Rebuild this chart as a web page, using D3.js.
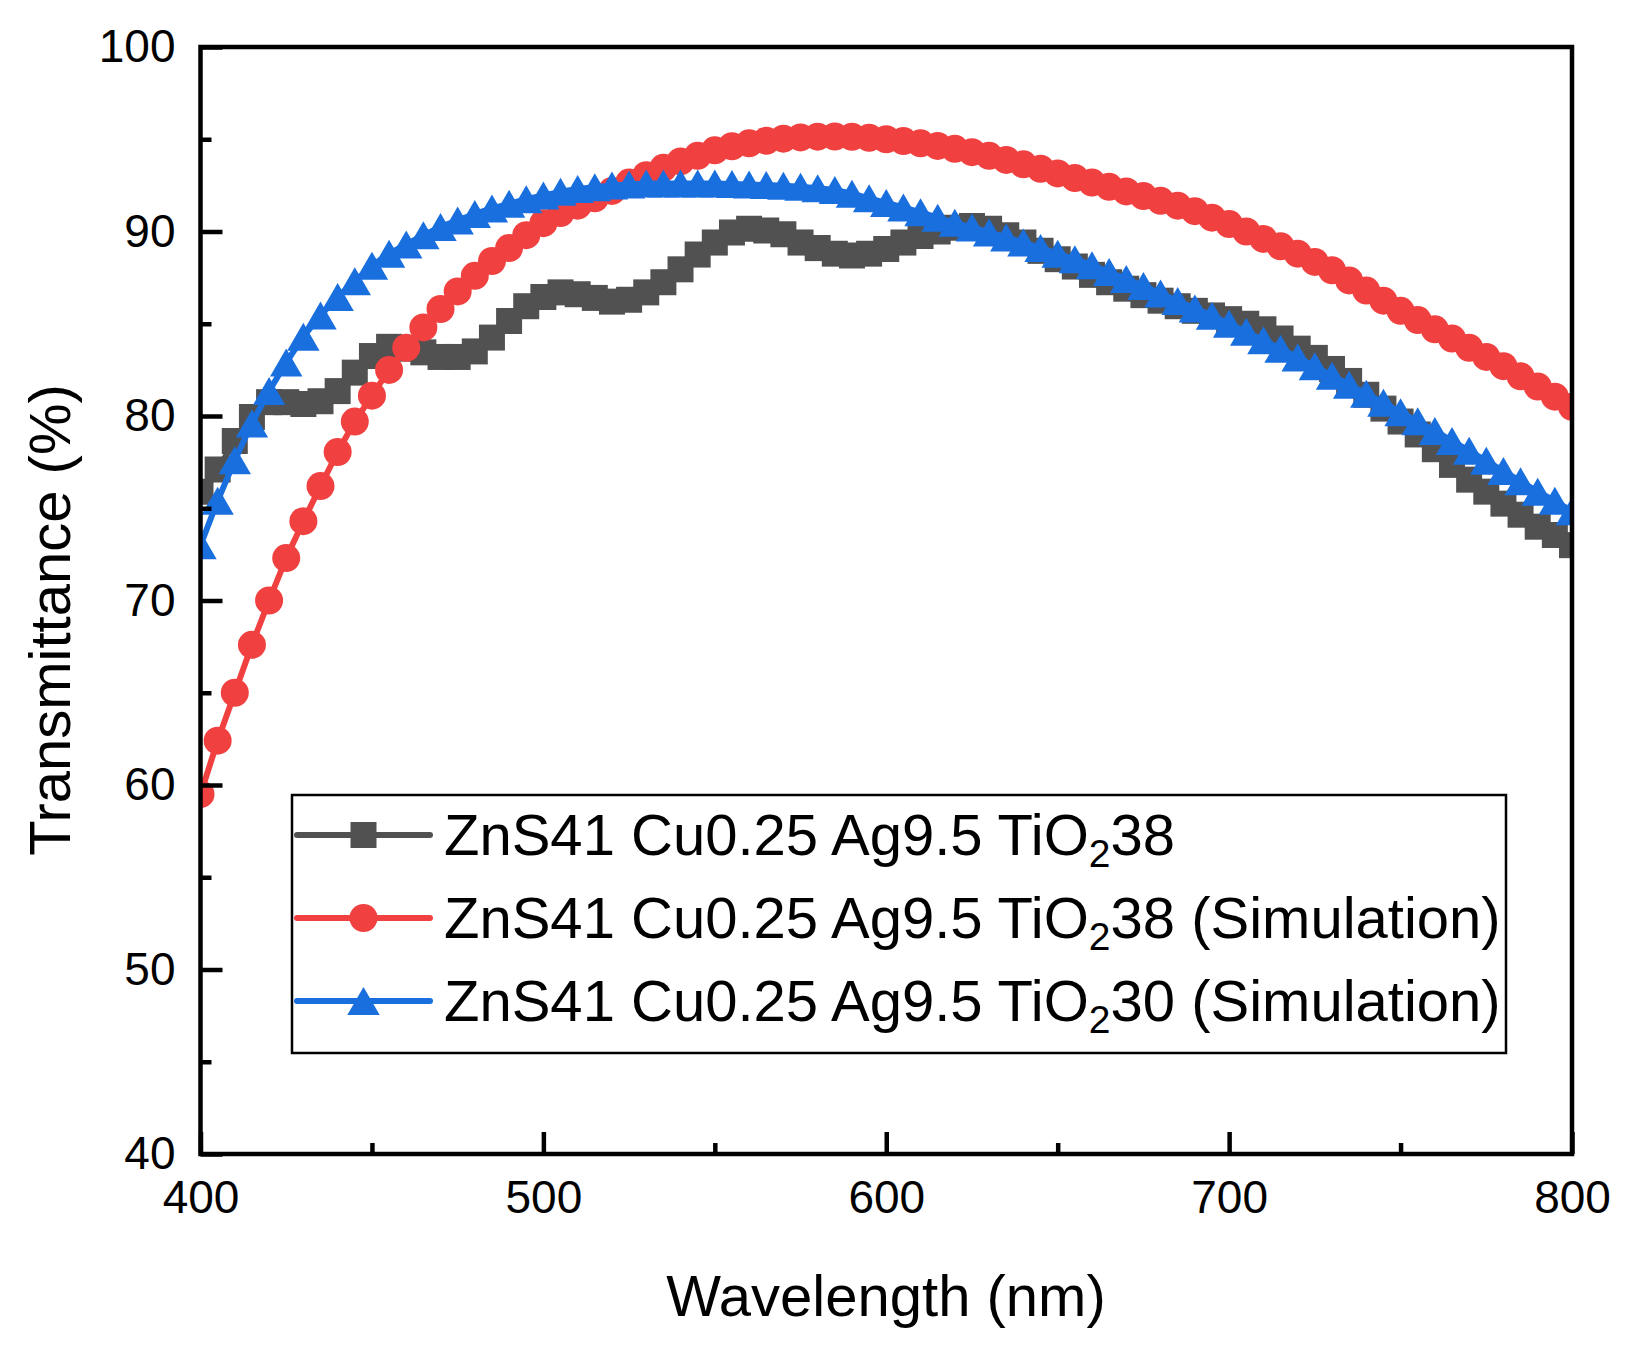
<!DOCTYPE html>
<html>
<head>
<meta charset="utf-8">
<script src="https://cdn.jsdelivr.net/npm/d3@7"></script>
<style>
  html, body { margin: 0; padding: 0; background: #ffffff; }
  svg { display: block; }
  text { font-family: "Liberation Sans", Arial, Helvetica, sans-serif; fill: #000; }
</style>
</head>
<body>
<svg id="chart" width="1632" height="1349"></svg>
<script>
// ---------------- data ----------------
const wavelength = [400,405,410,415,420,425,430,435,440,445,450,455,460,465,470,475,480,485,490,495,
  500,505,510,515,520,525,530,535,540,545,550,555,560,565,570,575,580,585,590,595,
  600,605,610,615,620,625,630,635,640,645,650,655,660,665,670,675,680,685,690,695,
  700,705,710,715,720,725,730,735,740,745,750,755,760,765,770,775,780,785,790,795,800];

const measured38 = [75.9,77.1,78.65,79.95,80.75,80.75,80.65,80.8,81.35,82.35,83.25,83.75,83.65,83.45,83.2,83.2,83.5,84.25,85.15,85.95,
  86.45,86.7,86.6,86.4,86.2,86.3,86.7,87.25,87.95,88.75,89.4,89.95,90.15,90.05,89.85,89.4,89.1,88.8,88.7,88.8,
  89.05,89.4,89.75,90.0,90.2,90.3,90.15,89.8,89.4,88.95,88.5,88.1,87.65,87.25,86.9,86.55,86.25,85.95,85.7,85.45,
  85.25,85.0,84.7,84.2,83.65,83.15,82.55,81.9,81.15,80.4,79.7,79.0,78.2,77.35,76.55,75.9,75.25,74.65,74.0,73.55,73.0];

const simulation38 = [59.5,62.4,65.0,67.6,70.0,72.3,74.3,76.2,78.05,79.7,81.1,82.5,83.7,84.8,85.8,86.75,87.6,88.4,89.1,89.8,
  90.45,91.0,91.4,91.8,92.2,92.65,93.05,93.45,93.8,94.1,94.4,94.62,94.78,94.92,95.03,95.1,95.14,95.15,95.13,95.08,
  95.0,94.9,94.78,94.64,94.48,94.3,94.1,93.88,93.64,93.4,93.15,92.9,92.65,92.42,92.17,91.92,91.66,91.4,91.1,90.75,
  90.4,90.0,89.6,89.2,88.8,88.35,87.9,87.35,86.8,86.25,85.7,85.2,84.7,84.2,83.7,83.2,82.7,82.15,81.6,81.05,80.5];

const simulation30 = [73.0,75.4,77.6,79.6,81.35,82.9,84.3,85.45,86.45,87.3,88.15,88.8,89.3,89.8,90.25,90.6,90.95,91.25,91.5,91.75,
  91.95,92.15,92.3,92.4,92.5,92.55,92.6,92.6,92.6,92.6,92.6,92.58,92.55,92.52,92.48,92.42,92.35,92.25,92.05,91.8,
  91.55,91.3,91.04,90.75,90.47,90.22,89.95,89.68,89.4,89.1,88.8,88.5,88.17,87.8,87.43,87.05,86.64,86.23,85.83,85.44,
  85.0,84.56,84.1,83.64,83.17,82.69,82.18,81.7,81.2,80.72,80.2,79.71,79.19,78.65,78.11,77.57,77.02,76.46,75.9,75.4,74.84];

const xTicks = [400, 500, 600, 700, 800];
const xMinorTicks = [450, 550, 650, 750];
const yTicks = [40, 50, 60, 70, 80, 90, 100];
const yMinorTicks = [45, 55, 65, 75, 85, 95];

const seriesNames = ["ZnS41 Cu0.25 Ag9.5 TiO", "ZnS41 Cu0.25 Ag9.5 TiO", "ZnS41 Cu0.25 Ag9.5 TiO"];
const seriesSuffix = ["38", "38 (Simulation)", "30 (Simulation)"];
const seriesColors = ["#515151", "#F14040", "#1A6FDF"];
const seriesShapes = ["square", "circle", "triangle"];
const seriesValues = [measured38, simulation38, simulation30];

const xTitle = "Wavelength (nm)";
const yTitle = "Transmittance (%)";

// ---------------- layout ----------------
(function draw() {
const svg = d3.select("#chart");
svg.append("rect").attr("width", 1632).attr("height", 1349).attr("fill", "#fff");

const pL = 200.5, pR = 1572, pT = 47, pB = 1154;
const x = d3.scaleLinear().domain([400, 800]).range([pL, pR]);
const y = d3.scaleLinear().domain([40, 100]).range([pB, pT]);

function markerPath(shape) {
  if (shape === "square") return "M-13,-13H13V13H-13Z";
  if (shape === "circle") return "M14,0A14,14 0 1,1 -14,0A14,14 0 1,1 14,0Z";
  return "M0,-14L16.2,14L-16.2,14Z";
}

svg.append("defs").append("clipPath").attr("id", "plotclip")
  .append("rect").attr("x", pL).attr("y", pT)
  .attr("width", pR - pL).attr("height", pB - pT);

const plot = svg.append("g").attr("clip-path", "url(#plotclip)");

const line = d3.line().x((d, i) => x(wavelength[i])).y(d => y(d));

seriesValues.forEach((vals, s) => {
  const g = plot.append("g");
  g.append("path").datum(vals)
    .attr("d", line)
    .attr("fill", "none")
    .attr("stroke", seriesColors[s])
    .attr("stroke-width", 6)
    .attr("stroke-linejoin", "round");
  g.selectAll("path.m").data(vals).enter().append("path")
    .attr("class", "m")
    .attr("d", markerPath(seriesShapes[s]))
    .attr("transform", (d, i) => `translate(${x(wavelength[i])},${y(d)})`)
    .attr("fill", seriesColors[s]);
});

// ---------------- axes ----------------
const fontTick = 46;
const axX = svg.append("g").attr("transform", `translate(0,${pB})`)
  .call(d3.axisBottom(x).tickValues(xTicks).tickSize(-22).tickPadding(26).tickFormat(d3.format("d")));
const axXm = svg.append("g").attr("transform", `translate(0,${pB})`)
  .call(d3.axisBottom(x).tickValues(xMinorTicks).tickSize(-11).tickFormat(""));
const axY = svg.append("g").attr("transform", `translate(${pL},0)`)
  .call(d3.axisLeft(y).tickValues(yTicks).tickSize(-22).tickPadding(25).tickFormat(d3.format("d")));
const axYm = svg.append("g").attr("transform", `translate(${pL},0)`)
  .call(d3.axisLeft(y).tickValues(yMinorTicks).tickSize(-11).tickFormat(""));

[axX, axXm, axY, axYm].forEach(a => {
  a.select(".domain").remove();
  a.selectAll(".tick line").attr("stroke", "#000").attr("stroke-width", 4.5);
  a.selectAll(".tick text").attr("font-size", fontTick)
    .attr("font-family", '"Liberation Sans", Arial, sans-serif').attr("fill", "#000");
});

// frame
svg.append("rect").attr("x", pL).attr("y", pT)
  .attr("width", pR - pL).attr("height", pB - pT)
  .attr("fill", "none").attr("stroke", "#000").attr("stroke-width", 4.5);

// axis titles
svg.append("text").attr("x", 886).attr("y", 1316)
  .attr("text-anchor", "middle").attr("font-size", 58).text(xTitle);
svg.append("text").attr("transform", "translate(70,620) rotate(-90)")
  .attr("text-anchor", "middle").attr("font-size", 58).text(yTitle);

// ---------------- legend ----------------
const leg = svg.append("g");
leg.append("rect").attr("x", 292).attr("y", 795).attr("width", 1214).attr("height", 258)
  .attr("fill", "#fff").attr("stroke", "#000").attr("stroke-width", 2.5);
const rowY = [835, 918, 1001];
seriesNames.forEach((name, s) => {
  const ry = rowY[s];
  leg.append("line").attr("x1", 297).attr("x2", 430).attr("y1", ry).attr("y2", ry)
    .attr("stroke", seriesColors[s]).attr("stroke-width", 6).attr("stroke-linecap", "round");
  leg.append("path").attr("d", markerPath(seriesShapes[s]))
    .attr("transform", `translate(363.5,${ry})`).attr("fill", seriesColors[s]);
  const t = leg.append("text").attr("x", 444).attr("y", ry + 20).attr("font-size", 58);
  t.append("tspan").text(name);
  t.append("tspan").attr("font-size", 39).attr("dy", 12).text("2");
  t.append("tspan").attr("dy", -12).text(seriesSuffix[s]);
});
})();
</script>
</body>
</html>
